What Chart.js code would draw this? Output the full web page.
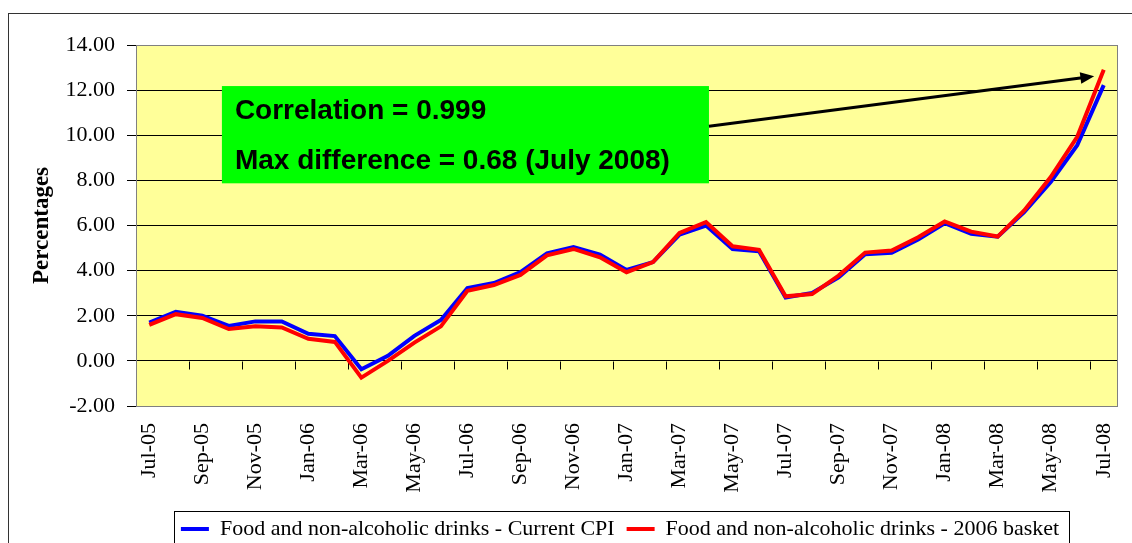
<!DOCTYPE html>
<html lang="en">
<head>
    <title>Food and non-alcoholic drinks</title>
    <script src="https://cdn.jsdelivr.net/npm/chart.js@4.4.0/dist/chart.umd.min.js"></script>
    <style>
        body { margin: 0; overflow: hidden; background: #fff; }
        #myChart { position: absolute; left: 0; top: 0; }
    </style>
</head>
<body>
    <canvas id="myChart" width="1240" height="560"></canvas>
    <script type="text/javascript">
        const months = ['Jul-05', 'Aug-05', 'Sep-05', 'Oct-05', 'Nov-05', 'Dec-05',
            'Jan-06', 'Feb-06', 'Mar-06', 'Apr-06', 'May-06', 'Jun-06', 'Jul-06', 'Aug-06', 'Sep-06', 'Oct-06', 'Nov-06', 'Dec-06',
            'Jan-07', 'Feb-07', 'Mar-07', 'Apr-07', 'May-07', 'Jun-07', 'Jul-07', 'Aug-07', 'Sep-07', 'Oct-07', 'Nov-07', 'Dec-07',
            'Jan-08', 'Feb-08', 'Mar-08', 'Apr-08', 'May-08', 'Jun-08', 'Jul-08'];

        const currentCPI = [1.70, 2.18, 2.00, 1.55, 1.75, 1.75, 1.20, 1.10, -0.37, 0.22, 1.11, 1.81,
            3.23, 3.45, 3.93, 4.77, 5.04, 4.71, 4.03, 4.38, 5.60, 6.00, 4.96, 4.86,
            2.81, 3.01, 3.70, 4.73, 4.79, 5.38, 6.10, 5.63, 5.50, 6.59, 7.93, 9.56, 12.22];

        const basket2006 = [1.60, 2.07, 1.90, 1.41, 1.53, 1.48, 0.98, 0.84, -0.74, 0.00, 0.81, 1.53,
            3.11, 3.36, 3.81, 4.68, 4.96, 4.59, 3.93, 4.38, 5.67, 6.15, 5.08, 4.92,
            2.86, 2.96, 3.78, 4.80, 4.89, 5.48, 6.18, 5.73, 5.51, 6.67, 8.15, 9.93, 12.90];

        const seriesNames = ['Food and non-alcoholic drinks - Current CPI', 'Food and non-alcoholic drinks - 2006 basket'];
        const noteLines = ['Correlation = 0.999', 'Max difference = 0.68 (July 2008)'];

        const serif = "'Liberation Serif', 'Times New Roman', serif";

        // note box and arrow, placed in axis units (category index, percent)
        const note = { x0: 2.74, x1: 21.11, y0: 12.18, y1: 7.87, textX: 3.23, textY: [11.07, 8.84],
            arrowFrom: [21.11, 10.4], arrowTo: [35.64, 12.62] };

        const framePlugin = {
            id: 'frame',
            beforeDraw(chart) {
                const ctx = chart.ctx;
                const a = chart.chartArea;
                ctx.save();
                ctx.strokeStyle = '#333';
                ctx.lineWidth = 1;
                ctx.strokeRect(8.5, 13.5, 1400, 700);
                ctx.fillStyle = '#FFFF99';
                ctx.fillRect(a.left, a.top, a.right - a.left, a.bottom - a.top);
                ctx.restore();
            },
            beforeDatasetsDraw(chart) {
                // category tick marks sit on the zero line
                const ctx = chart.ctx;
                const x = chart.scales.x;
                const y0 = Math.round(chart.scales.y.getPixelForValue(0)) + 0.5;
                ctx.save();
                ctx.strokeStyle = '#000';
                ctx.lineWidth = 1;
                ctx.beginPath();
                for (let k = 2; k < months.length; k += 2) {
                    const px = Math.round(x.getPixelForValue(k - 0.5)) + 0.5;
                    ctx.moveTo(px, y0);
                    ctx.lineTo(px, y0 + 8);
                }
                ctx.stroke();
                const a = chart.chartArea;
                ctx.strokeStyle = '#808080';
                ctx.strokeRect(Math.round(a.left) + 0.5, Math.round(a.top) + 0.5, Math.round(a.right - a.left), Math.round(a.bottom - a.top));
                ctx.restore();
            },
            afterDatasetsDraw(chart) {
                const ctx = chart.ctx;
                const x = chart.scales.x;
                const y = chart.scales.y;
                const l = x.getPixelForValue(note.x0), r = x.getPixelForValue(note.x1);
                const t = y.getPixelForValue(note.y0), b = y.getPixelForValue(note.y1);
                ctx.save();
                ctx.fillStyle = '#00FF00';
                ctx.fillRect(l, t, r - l, b - t);
                ctx.fillStyle = '#000';
                ctx.font = "bold 28px 'Liberation Sans', Arial, sans-serif";
                ctx.textBaseline = 'middle';
                ctx.textAlign = 'left';
                noteLines.forEach(function (line, i) {
                    ctx.fillText(line, x.getPixelForValue(note.textX), y.getPixelForValue(note.textY[i]));
                });

                const ax = x.getPixelForValue(note.arrowFrom[0]), ay = y.getPixelForValue(note.arrowFrom[1]);
                const bx = x.getPixelForValue(note.arrowTo[0]), by = y.getPixelForValue(note.arrowTo[1]);
                const ang = Math.atan2(by - ay, bx - ax);
                const head = 15;
                ctx.strokeStyle = '#000';
                ctx.lineWidth = 3;
                ctx.beginPath();
                ctx.moveTo(ax, ay);
                ctx.lineTo(bx - Math.cos(ang) * head * 0.8, by - Math.sin(ang) * head * 0.8);
                ctx.stroke();
                ctx.beginPath();
                ctx.moveTo(bx, by);
                ctx.lineTo(bx - head * Math.cos(ang - 0.4), by - head * Math.sin(ang - 0.4));
                ctx.lineTo(bx - head * Math.cos(ang + 0.4), by - head * Math.sin(ang + 0.4));
                ctx.closePath();
                ctx.fill();

                // border round the legend
                const hb = chart.legend.legendHitBoxes;
                if (hb && hb.length) {
                    const last = hb[hb.length - 1];
                    const bl = Math.round(hb[0].left - 7) + 0.5;
                    const br = Math.round(last.left + last.width + 10) + 0.5;
                    const bt = Math.round(chart.legend.top + 5) + 0.5;
                    ctx.strokeStyle = '#000';
                    ctx.lineWidth = 1;
                    ctx.strokeRect(bl, bt, br - bl, 60);
                }
                ctx.restore();
            }
        };

        const ctx = document.getElementById('myChart').getContext('2d');
        const myChart = new Chart(ctx, {
            type: 'line',
            data: {
                labels: months,
                datasets: [{
                    label: seriesNames[0],
                    data: currentCPI,
                    borderColor: '#0000FF',
                    backgroundColor: '#0000FF',
                    borderWidth: 4,
                    pointRadius: 0,
                    tension: 0,
                    order: 2
                }, {
                    label: seriesNames[1],
                    data: basket2006,
                    borderColor: '#FF0000',
                    backgroundColor: '#FF0000',
                    borderWidth: 4,
                    pointRadius: 0,
                    tension: 0,
                    order: 1
                }]
            },
            options: {
                responsive: false,
                animation: false,
                devicePixelRatio: 1,
                layout: { padding: { top: 45, left: 0, right: 0, bottom: 10 } },
                scales: {
                    x: {
                        type: 'category',
                        offset: true,
                        grid: { display: false, drawTicks: false },
                        border: { display: false },
                        ticks: {
                            autoSkip: false,
                            minRotation: 90,
                            maxRotation: 90,
                            padding: 17,
                            color: '#000',
                            font: { family: serif, size: 22 },
                            callback: function (v, i) { return i % 2 ? '' : months[i]; }
                        },
                        afterFit: function (s) { s.height = 100; }
                    },
                    y: {
                        min: -2,
                        max: 14,
                        grid: { color: '#000', lineWidth: 1, tickLength: 9, drawTicks: true },
                        border: { color: '#000', width: 1 },
                        ticks: {
                            stepSize: 2,
                            padding: 12,
                            color: '#000',
                            font: { family: serif, size: 22 },
                            callback: function (v) { return v.toFixed(2); }
                        },
                        title: {
                            display: true,
                            text: 'Percentages',
                            color: '#000',
                            font: { family: serif, size: 23, weight: 'bold' },
                            padding: { top: 28, bottom: 0 }
                        },
                        afterFit: function (s) { s.width = 136; }
                    },
                    spare: {
                        type: 'linear',
                        position: 'right',
                        display: true,
                        grid: { display: false, drawTicks: false },
                        border: { display: false },
                        ticks: { display: false },
                        afterFit: function (s) { s.width = 123; }
                    }
                },
                plugins: {
                    tooltip: { enabled: false },
                    legend: {
                        position: 'bottom',
                        labels: {
                            color: '#000',
                            font: { family: serif, size: 22 },
                            boxWidth: 28,
                            boxHeight: 4,
                            padding: 12,
                            sort: function (a, b) { return a.datasetIndex - b.datasetIndex; },
                            generateLabels: function (chart) {
                                return Chart.defaults.plugins.legend.labels.generateLabels(chart).map(function (item) {
                                    item.fillStyle = item.strokeStyle;
                                    item.lineWidth = 0;
                                    return item;
                                });
                            }
                        }
                    }
                }
            },
            plugins: [framePlugin]
        });
    </script>
</body>
</html>
